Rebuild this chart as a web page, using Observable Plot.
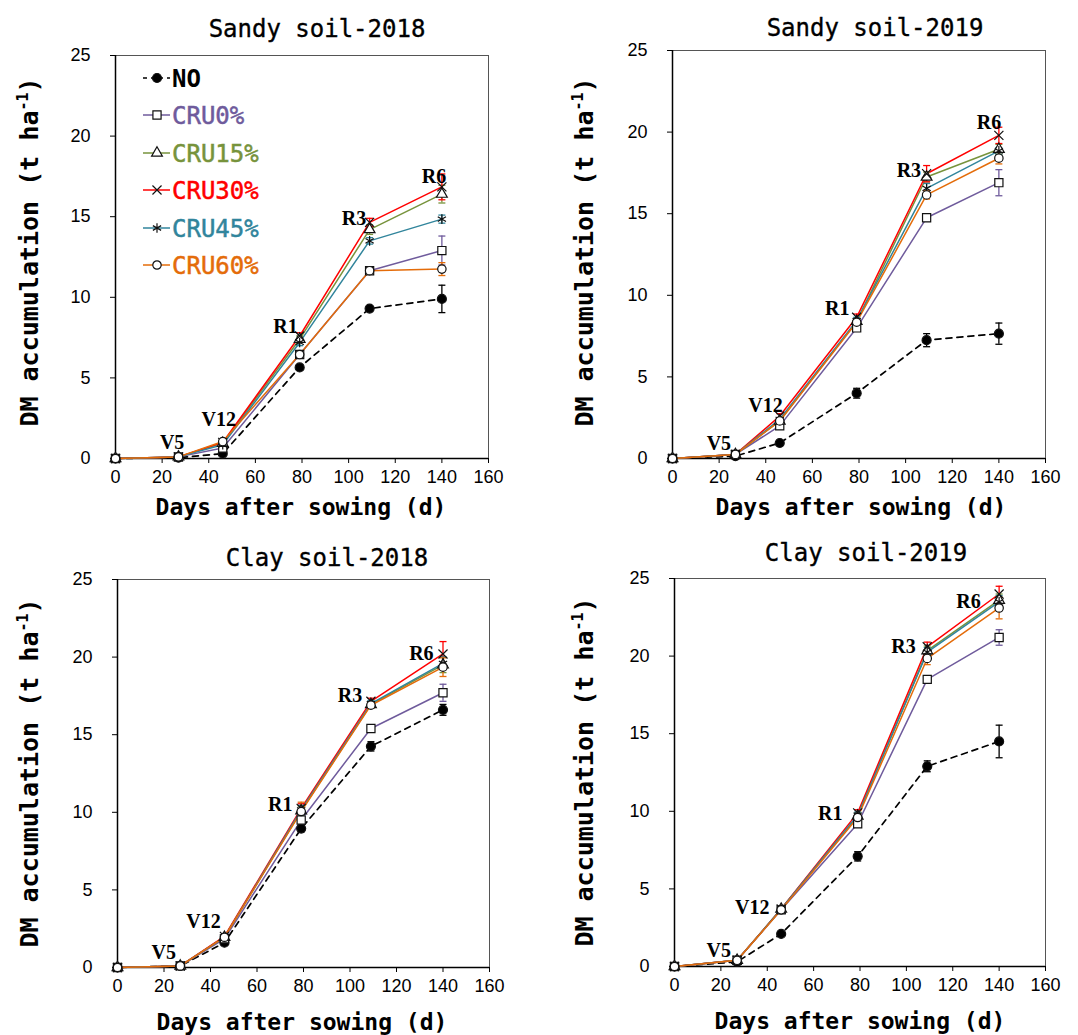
<!DOCTYPE html>
<html><head><meta charset="utf-8">
<script src="https://cdn.jsdelivr.net/npm/d3@7"></script>
<script src="https://cdn.jsdelivr.net/npm/@observablehq/plot@0.6"></script>
<style>
html,body{margin:0;padding:0;background:#fff;}
#wrap{position:relative;width:1078px;height:1035px;overflow:hidden;background:#fff;}
#wrap svg{position:absolute;overflow:visible;}
</style></head><body><div id="wrap"></div>
<script>
// ---------------- data ----------------
const days = [0, 27, 46, 79, 109, 140];
const treatments = ["NO", "CRU0%", "CRU15%", "CRU30%", "CRU45%", "CRU60%"];
const panelTitles = ["Sandy soil-2018", "Sandy soil-2019", "Clay soil-2018", "Clay soil-2019"];
const stages = ["V5", "V12", "R1", "R3", "R6"];
const xTicks = [0, 20, 40, 60, 80, 100, 120, 140, 160];
const yTicks = [0, 5, 10, 15, 20, 25];

// mean DM accumulation (t ha-1), rows in treatment order
const sandy2018Mean = [
  [0, 0.05, 0.30, 5.65, 9.30, 9.90],
  [0, 0.10, 0.65, 6.45, 11.65, 12.90],
  [0, 0.10, 0.95, 7.40, 14.20, 16.40],
  [0, 0.10, 1.00, 7.60, 14.65, 16.85],
  [0, 0.10, 0.85, 7.20, 13.50, 14.85],
  [0, 0.10, 1.05, 6.45, 11.65, 11.75]
];
const sandy2018Err = [
  [0, 0, 0.10, 0.15, 0.15, 0.85],
  [0, 0, 0.10, 0.20, 0.15, 0.90],
  [0, 0, 0.10, 0.20, 0.30, 0.55],
  [0, 0, 0.10, 0.20, 0.25, 0.80],
  [0, 0, 0.10, 0.20, 0.20, 0.25],
  [0, 0, 0.10, 0.15, 0.15, 0.40]
];
const sandy2019Mean = [
  [0, 0.15, 0.95, 4.00, 7.25, 7.65],
  [0, 0.25, 2.00, 8.00, 14.75, 16.90],
  [0, 0.25, 2.30, 8.40, 17.25, 18.95],
  [0, 0.25, 2.60, 8.65, 17.45, 19.80],
  [0, 0.25, 2.40, 8.45, 16.55, 18.85],
  [0, 0.25, 2.30, 8.35, 16.15, 18.40]
];
const sandy2019Err = [
  [0, 0, 0.10, 0.30, 0.40, 0.65],
  [0, 0, 0.10, 0.20, 0.20, 0.80],
  [0, 0, 0.10, 0.20, 0.30, 0.30],
  [0, 0, 0.15, 0.20, 0.50, 0.50],
  [0, 0, 0.10, 0.20, 0.30, 0.20],
  [0, 0, 0.10, 0.20, 0.25, 0.35]
];
const clay2018Mean = [
  [0, 0.10, 1.60, 8.95, 14.25, 16.60],
  [0, 0.10, 1.85, 9.50, 15.40, 17.70],
  [0, 0.10, 1.95, 10.10, 16.95, 19.50],
  [0, 0.10, 2.00, 10.25, 17.15, 20.20],
  [0, 0.10, 1.95, 10.15, 17.00, 19.60],
  [0, 0.10, 1.95, 10.05, 16.90, 19.35]
];
const clay2018Err = [
  [0, 0, 0.15, 0.20, 0.30, 0.35],
  [0, 0, 0.10, 0.35, 0.20, 0.55],
  [0, 0, 0.10, 0.30, 0.20, 0.50],
  [0, 0, 0.10, 0.30, 0.20, 0.80],
  [0, 0, 0.10, 0.30, 0.20, 0.40],
  [0, 0, 0.10, 0.60, 0.20, 0.60]
];
const clay2019Mean = [
  [0, 0.30, 2.10, 7.10, 12.90, 14.50],
  [0, 0.40, 3.65, 9.20, 18.50, 21.20],
  [0, 0.40, 3.70, 9.70, 20.35, 23.60],
  [0, 0.40, 3.70, 9.90, 20.60, 24.00],
  [0, 0.40, 3.70, 9.75, 20.25, 23.50],
  [0, 0.40, 3.65, 9.60, 19.85, 23.10]
];
const clay2019Err = [
  [0, 0, 0.10, 0.30, 0.35, 1.05],
  [0, 0, 0.10, 0.20, 0.20, 0.50],
  [0, 0, 0.10, 0.20, 0.30, 0.40],
  [0, 0, 0.10, 0.20, 0.30, 0.50],
  [0, 0, 0.10, 0.20, 0.30, 0.40],
  [0, 0, 0.10, 0.20, 0.40, 0.70]
];
// growth-stage annotation anchors (data units: day, t ha-1)
const sandy2018StageX = [24.3, 44.3, 72.9, 102.3, 136.6];
const sandy2018StageY = [1.0, 2.4, 8.2, 14.9, 17.5];
const sandy2019StageX = [19.9, 39.9, 70.7, 101.4, 135.8];
const sandy2019StageY = [0.94, 3.25, 9.17, 17.65, 20.6];
const clay2018StageX = [19.9, 37.0, 70.0, 100.0, 130.7];
const clay2018StageY = [0.98, 2.98, 10.5, 17.5, 20.2];
const clay2019StageX = [19.1, 33.5, 67.2, 98.8, 126.8];
const clay2019StageY = [1.03, 3.82, 9.84, 20.6, 23.5];

// ---------------- styles ----------------
const colors = ["#000000", "#6F5B9C", "#77933C", "#FF0000", "#31859C", "#E46C0A"];
const symbols = ["circle", "square", "triangle", "times", "asterisk", "circle"];
const symFill = ["#000000", "white", "white", "none", "none", "white"];
const symR = [4.5, 4.6, 4.0, 4.2, 4.5, 4.2];
const monoFont = "'DejaVu Sans Mono', 'Liberation Mono', monospace";
const capSymbol = {draw(ctx) { ctx.moveTo(-3.5, 0); ctx.lineTo(3.5, 0); }};

const layouts = [
  {left: 0,   top: 0,   w: 539, h: 517, m: [55, 51, 59, 115], title: [317, 28], xl: [301, 507], yl: [30, 252]},
  {left: 539, top: 0,   w: 539, h: 517, m: [50, 33, 59, 133], title: [336, 27], xl: [322, 507], yl: [46, 252]},
  {left: 0,   top: 517, w: 539, h: 518, m: [62, 50, 68, 117], title: [327, 40], xl: [302, 505], yl: [30, 256]},
  {left: 539, top: 517, w: 539, h: 518, m: [61, 33, 69, 135], title: [327, 35], xl: [321, 504], yl: [46, 255]}
];
const means = [sandy2018Mean, sandy2019Mean, clay2018Mean, clay2019Mean];
const errs = [sandy2018Err, sandy2019Err, clay2018Err, clay2019Err];
const stageXs = [sandy2018StageX, sandy2019StageX, clay2018StageX, clay2019StageX];
const stageYs = [sandy2018StageY, sandy2019StageY, clay2018StageY, clay2019StageY];

const wrap = document.getElementById("wrap");

function makePanel(p) {
  const L = layouts[p];
  const rows = [];
  means[p].forEach((arr, i) => arr.forEach((v, j) => rows.push({ti: i, day: days[j], v, e: errs[p][i][j]})));
  const stageRows = stages.map((s, k) => ({s, x: stageXs[p][k], y: stageYs[p][k]}));
  const marks = [
    Plot.frame({stroke: "#555", strokeWidth: 1}),
    Plot.axisX({ticks: xTicks, tickSize: 5, tickPadding: 7, label: null, fontSize: 18, tickFormat: d => d}),
    Plot.axisY({ticks: yTicks, tickSize: 5, tickPadding: 20, label: null, fontSize: 18, tickFormat: d => d}),
    Plot.ruleX([0], {stroke: "#000", strokeWidth: 1.5}),
    Plot.ruleY([0], {stroke: "#000", strokeWidth: 1.5})
  ];
  treatments.forEach((t, i) => {
    const d = rows.filter(r => r.ti === i);
    marks.push(Plot.line(d, {x: "day", y: "v", stroke: colors[i], strokeWidth: i === 0 ? 1.7 : 1.5,
      strokeDasharray: i === 0 ? "6,5" : null}));
  });
  treatments.forEach((t, i) => {
    const d = rows.filter(r => r.ti === i && r.e > 0);
    marks.push(Plot.ruleX(d, {x: "day", y1: r => r.v - r.e, y2: r => r.v + r.e, stroke: colors[i], strokeWidth: 1.3}));
    marks.push(Plot.dot(d, {x: "day", y: r => r.v + r.e, symbol: capSymbol, fill: "none", stroke: colors[i], strokeWidth: 1.3}));
    marks.push(Plot.dot(d, {x: "day", y: r => r.v - r.e, symbol: capSymbol, fill: "none", stroke: colors[i], strokeWidth: 1.3}));
  });
  treatments.forEach((t, i) => {
    const d = rows.filter(r => r.ti === i);
    marks.push(Plot.dot(d, {x: "day", y: "v", symbol: symbols[i], r: symR[i], fill: symFill[i], stroke: "#111", strokeWidth: 1.2}));
  });
  marks.push(Plot.text(stageRows, {x: "x", y: "y", text: "s", fontFamily: "'Liberation Serif', 'Times New Roman', serif",
    fontWeight: "bold", fontSize: 20, fill: "#000"}));

  const svg = Plot.plot({
    width: L.w, height: L.h,
    marginTop: L.m[0], marginRight: L.m[1], marginBottom: L.m[2], marginLeft: L.m[3],
    x: {domain: [0, 160]},
    y: {domain: [0, 25]},
    style: {fontFamily: "'Liberation Sans', Arial, sans-serif", fontSize: "18px", color: "#000", background: "transparent", overflow: "visible"},
    marks
  });
  svg.style.left = L.left + "px";
  svg.style.top = L.top + "px";
  const s = d3.select(svg);
  s.append("text").attr("x", L.title[0]).attr("y", L.title[1] + 8.5).attr("text-anchor", "middle")
    .attr("font-family", monoFont).attr("font-size", 24).attr("fill", "#000")
    .attr("stroke", "#000").attr("stroke-width", 0.35).text(panelTitles[p]);
  s.append("text").attr("x", L.xl[0]).attr("y", L.xl[1] + 8).attr("text-anchor", "middle")
    .attr("font-family", monoFont).attr("font-weight", "bold").attr("font-size", 23).attr("fill", "#000")
    .text("Days after sowing (d)");
  const yt = s.append("text").attr("transform", `translate(${L.yl[0] + 8},${L.yl[1]}) rotate(-90)`)
    .attr("text-anchor", "middle").attr("font-family", monoFont).attr("font-weight", "bold")
    .attr("font-size", 25).attr("fill", "#000");
  yt.append("tspan").text("DM accumulation (t ha");
  yt.append("tspan").attr("font-size", 15).attr("dy", -10).text("-1");
  yt.append("tspan").attr("dy", 10).text(")");

  if (p === 0) {
    const lg = s.append("g").attr("text-anchor", "start");
    const rowsY = [78, 115, 153, 190, 228, 265];
    treatments.forEach((t, i) => {
      const y = rowsY[i];
      lg.append("line").attr("x1", 143).attr("x2", 170).attr("y1", y).attr("y2", y)
        .attr("stroke", colors[i]).attr("stroke-width", 1.5).attr("stroke-dasharray", i === 0 ? "4,4" : null);
      const sym = {circle: d3.symbolCircle, square: d3.symbolSquare, triangle: d3.symbolTriangle, times: d3.symbolTimes, asterisk: d3.symbolAsterisk}[symbols[i]];
      lg.append("path").attr("d", d3.symbol(sym, symR[i] * symR[i] * Math.PI)())
        .attr("transform", `translate(157,${y})`).attr("fill", symFill[i]).attr("stroke", "#111").attr("stroke-width", 1.2);
      lg.append("text").attr("x", 172).attr("y", y + 8.5).attr("text-anchor", "start").attr("font-family", monoFont)
        .attr("font-size", 24).attr("font-weight", i === 0 ? "bold" : "normal").attr("fill", colors[i])
        .attr("stroke", colors[i]).attr("stroke-width", i === 0 ? 0 : 0.5).text(t);
    });
  }
  wrap.appendChild(svg);
}
[0, 1, 2, 3].forEach(makePanel);
</script>
</body></html>
